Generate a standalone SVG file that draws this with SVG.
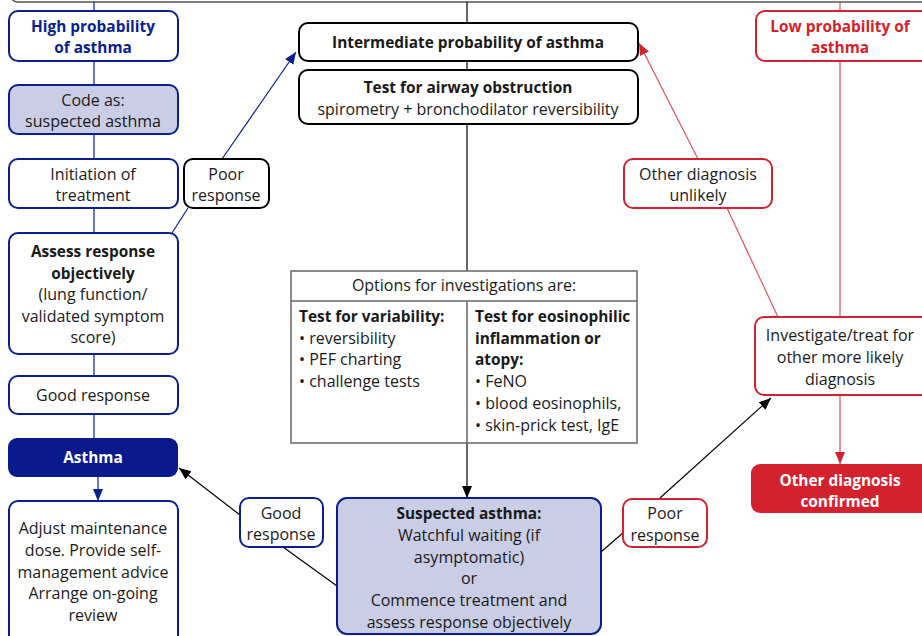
<svg xmlns="http://www.w3.org/2000/svg" width="922" height="636" viewBox="0 0 922 636">
<defs>
<style>
text{font-family:"Open Sans","Liberation Sans",Arial,sans-serif;font-size:16px;fill:#1a1a1a;text-anchor:middle}
.b{font-weight:bold;font-size:15.4px}
.l{text-anchor:start}
.navy{fill:#0a1f8f}
.red{fill:#d3222d}
.w{fill:#fff}
.bx{fill:#fff;stroke:#000;stroke-width:2}
.bb{fill:#fff;stroke:#0a1f8f;stroke-width:2}
.br{fill:#fff;stroke:#d3222d;stroke-width:2}
.lav{fill:#c9cde5;stroke:#0a1f8f;stroke-width:2}
.cb{stroke:#0a1f8f;stroke-width:1.2;fill:none}
.ck{stroke:#000;stroke-width:1.2;fill:none}
.cr{stroke:#e0505a;stroke-width:1.2;fill:none}
</style>
<marker id="ak" markerUnits="userSpaceOnUse" markerWidth="13" markerHeight="11" refX="12" refY="5" orient="auto"><path d="M0,0 L12,5 L0,10 z" fill="#000"/></marker>
<marker id="ab" markerUnits="userSpaceOnUse" markerWidth="13" markerHeight="11" refX="12" refY="5" orient="auto"><path d="M0,0 L12,5 L0,10 z" fill="#0a1f8f"/></marker>
<marker id="ar" markerUnits="userSpaceOnUse" markerWidth="13" markerHeight="11" refX="12" refY="5" orient="auto"><path d="M0,0 L12,5 L0,10 z" fill="#d3222d"/></marker>
</defs>
<rect x="10" y="-30" width="930" height="32" rx="8" fill="none" stroke="#555" stroke-width="1.5"/>
<g id="connectors">
<line class="cb" x1="94" y1="2" x2="94" y2="11"/>
<line class="cb" x1="94" y1="61" x2="94" y2="85"/>
<line class="cb" x1="94" y1="134" x2="94" y2="159"/>
<line class="cb" x1="94" y1="208" x2="94" y2="233"/>
<line class="cb" x1="94" y1="354" x2="94" y2="376"/>
<line class="cb" x1="94" y1="414" x2="94" y2="438"/>
<line class="cb" x1="98" y1="477" x2="98" y2="501" marker-end="url(#ab)"/>
<line class="cb" x1="172" y1="233" x2="188" y2="208"/>
<line class="cb" x1="222" y1="159" x2="296" y2="52" marker-end="url(#ab)"/>
<line class="ck" x1="467" y1="2" x2="467" y2="23"/>
<line class="ck" x1="467" y1="61" x2="467" y2="70"/>
<line class="ck" x1="467" y1="124" x2="467" y2="271"/>
<line class="ck" x1="467" y1="443" x2="467" y2="498" marker-end="url(#ak)"/>
<line class="ck" x1="337" y1="586" x2="283" y2="547"/>
<line class="ck" x1="240" y1="515" x2="179" y2="468" marker-end="url(#ak)"/>
<line class="ck" x1="601" y1="552" x2="624" y2="532"/>
<line class="ck" x1="660" y1="498" x2="771" y2="398" marker-end="url(#ak)"/>
<line class="cr" x1="840" y1="2" x2="840" y2="11"/>
<line class="cr" x1="840" y1="61" x2="840" y2="317"/>
<line class="cr" x1="840" y1="395" x2="840" y2="464" marker-end="url(#ar)"/>
<line class="cr" x1="778" y1="317" x2="727" y2="208"/>
<line class="cr" x1="698" y1="159" x2="639" y2="43" marker-end="url(#ar)"/>
</g>
<g id="high"><rect class="bb" x="9" y="11" width="169" height="50" rx="9"/><text class="b navy" x="93" y="32">High probability</text><text class="b navy" x="93" y="53">of asthma</text></g>
<g id="code"><rect class="lav" x="9" y="85" width="169" height="49" rx="9"/><text x="93" y="106">Code as:</text><text x="93" y="127">suspected asthma</text></g>
<g id="init"><rect class="bb" x="9" y="159" width="169" height="49" rx="9"/><text x="93" y="180">Initiation of</text><text x="93" y="201">treatment</text></g>
<g id="poorL"><rect class="bx" x="184" y="159" width="85" height="49" rx="9"/><text x="226" y="180">Poor</text><text x="226" y="201">response</text></g>
<g id="assess"><rect class="bb" x="9" y="233" width="169" height="121" rx="9"/><text class="b" x="93" y="257">Assess response</text><text class="b" x="93" y="279">objectively</text><text x="93" y="300">(lung function/</text><text x="93" y="322">validated symptom</text><text x="93" y="343">score)</text></g>
<g id="goodL"><rect class="bb" x="9" y="376" width="169" height="38" rx="9"/><text x="93" y="401">Good response</text></g>
<g id="asthma"><rect x="8" y="438" width="170" height="39" rx="9" fill="#0a1a8c"/><text class="b w" x="93" y="463">Asthma</text></g>
<g id="adjust"><rect class="bb" x="9" y="501" width="169" height="150" rx="9"/><text x="93" y="534">Adjust maintenance</text><text x="93" y="556">dose. Provide self-</text><text x="93" y="578">management advice</text><text x="93" y="599">Arrange on-going</text><text x="93" y="621">review</text></g>
<g id="inter"><rect class="bx" x="299" y="23" width="339" height="38" rx="9"/><text class="b" x="468" y="48">Intermediate probability of asthma</text></g>
<g id="test"><rect class="bx" x="299" y="70" width="339" height="54" rx="9"/><text class="b" x="468" y="93">Test for airway obstruction</text><text x="468" y="115">spirometry + bronchodilator reversibility</text></g>
<g id="options">
<rect x="291" y="271" width="346" height="172" fill="#fff" stroke="#666" stroke-width="1.5"/>
<line x1="291" y1="301" x2="637" y2="301" stroke="#666" stroke-width="1.5"/>
<line x1="467" y1="301" x2="467" y2="443" stroke="#666" stroke-width="1.5"/>
<text x="464" y="291">Options for investigations are:</text>
<text class="b l" x="299" y="322">Test for variability:</text>
<text class="l" x="299" y="344">• reversibility</text>
<text class="l" x="299" y="365">• PEF charting</text>
<text class="l" x="299" y="387">• challenge tests</text>
<text class="b l" x="475" y="322">Test for eosinophilic</text>
<text class="b l" x="475" y="344">inflammation or</text>
<text class="b l" x="475" y="365">atopy:</text>
<text class="l" x="475" y="387">• FeNO</text>
<text class="l" x="475" y="409">• blood eosinophils,</text>
<text class="l" x="475" y="431">• skin-prick test, IgE</text>
</g>
<g id="suspected"><rect class="lav" x="337" y="498" width="264" height="136" rx="10"/><text class="b" x="469" y="519">Suspected asthma:</text><text x="469" y="541">Watchful waiting (if</text><text x="469" y="563">asymptomatic)</text><text x="469" y="584">or</text><text x="469" y="606">Commence treatment and</text><text x="469" y="628">assess response objectively</text></g>
<g id="goodM"><rect class="bb" x="240" y="498" width="83" height="49" rx="9"/><text x="281" y="519">Good</text><text x="281" y="540">response</text></g>
<g id="poorR"><rect class="br" x="623" y="499" width="84" height="48" rx="9"/><text x="665" y="519">Poor</text><text x="665" y="541">response</text></g>
<g id="low"><rect class="br" x="756" y="11" width="180" height="50" rx="9"/><text class="b red" x="840" y="32">Low probability of</text><text class="b red" x="840" y="53">asthma</text></g>
<g id="unlikely"><rect class="br" x="624" y="159" width="148" height="49" rx="9"/><text x="698" y="180">Other diagnosis</text><text x="698" y="201">unlikely</text></g>
<g id="investigate"><rect class="br" x="755" y="317" width="180" height="78" rx="9"/><text x="840" y="341">Investigate/treat for</text><text x="840" y="363">other more likely</text><text x="840" y="385">diagnosis</text></g>
<g id="confirmed"><rect x="751" y="464" width="185" height="49" rx="9" fill="#d3222d"/><text class="b w" x="840" y="486">Other diagnosis</text><text class="b w" x="840" y="507">confirmed</text></g>
</svg>
